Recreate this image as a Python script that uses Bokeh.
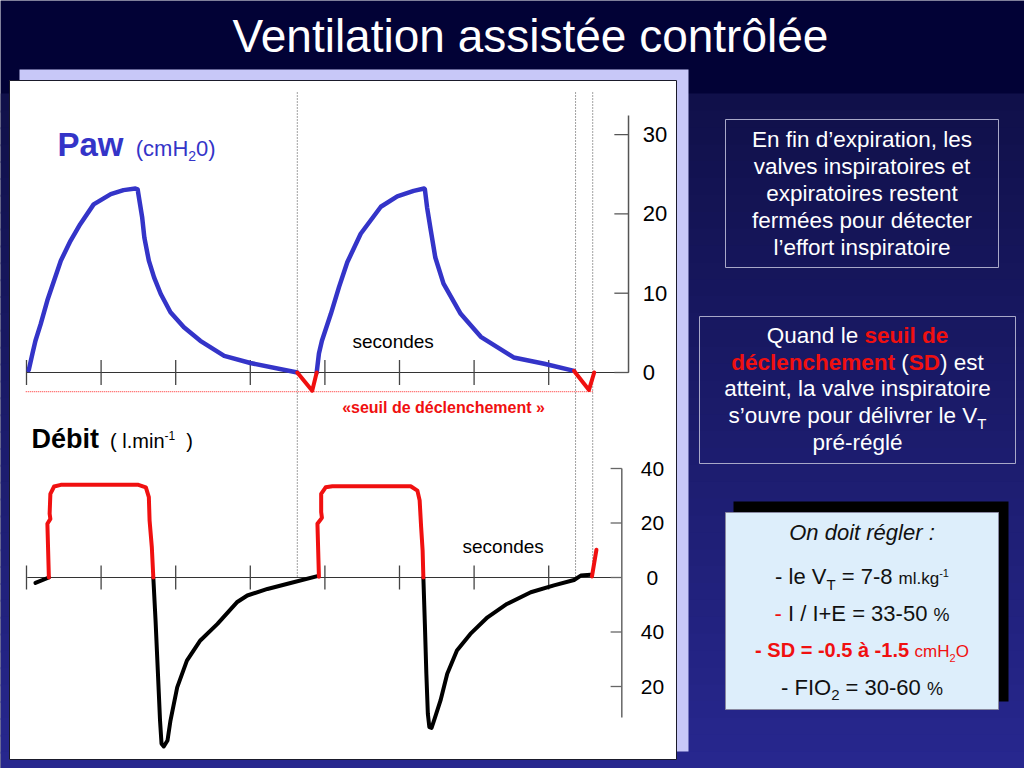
import unicodedata
from bokeh.plotting import figure
from bokeh.models import Range1d
from bokeh.core.properties import value
from bokeh.embed import file_html
from bokeh.resources import INLINE

# ---------------- data (time in tick units, Paw in cmH2O, flow in l/min) ----------------
time_ticks = [0, 1, 2, 3, 4, 5, 6, 7]
paw_ticks = [0, 10, 20, 30]
paw_tick_labels = ["0", "10", "20", "30"]
flow_ticks = [40, 20, 0, -20, -40]
flow_tick_labels = ["40", "20", "0", "40", "20"]

paw1_t = [0.03, 0.08, 0.12, 0.19, 0.28, 0.37, 0.46, 0.59, 0.72, 0.90, 1.13, 1.30, 1.46, 1.49,
          1.50, 1.55, 1.58, 1.64, 1.71, 1.80, 1.93, 2.11, 2.33, 2.65, 3.00, 3.63]
paw1_v = [0.3, 2.4, 4.0, 6.1, 9.1, 11.6, 14.1, 16.6, 18.7, 21.2, 22.5, 23.0, 23.2, 23.1,
          22.5, 19.6, 17.0, 14.1, 12.0, 9.9, 7.6, 5.7, 4.0, 2.1, 1.2, 0.0]
trig1_t = [3.63, 3.83, 3.89]
trig1_v = [0.0, -2.3, 0.0]
paw2_t = [3.89, 3.92, 3.96, 4.08, 4.19, 4.30, 4.48, 4.75, 4.97, 5.19, 5.33, 5.34,
          5.37, 5.42, 5.48, 5.59, 5.82, 6.09, 6.53, 6.94, 7.34]
paw2_v = [0.0, 2.4, 4.0, 7.4, 10.8, 13.9, 17.5, 20.9, 22.2, 22.9, 23.2, 23.1,
          20.8, 17.9, 14.5, 11.2, 7.4, 4.5, 1.9, 1.1, 0.2]
trig2_t = [7.34, 7.54, 7.61]
trig2_v = [0.2, -2.2, 0.0]

flow0_t = [0.12, 0.30]
flow0_v = [-2.0, 0.0]
insp1_t = [0.30, 0.28, 0.32, 0.31, 0.32, 0.37, 0.46, 1.50, 1.60, 1.64, 1.65, 1.68, 1.70]
insp1_v = [0.0, 19.7, 21.5, 23.4, 30.7, 33.4, 34.0, 34.0, 33.1, 29.5, 20.9, 11.1, 0.0]
exp1_t = [1.70, 1.73, 1.76, 1.79, 1.81, 1.84, 1.89, 1.93, 2.02, 2.15, 2.33, 2.56, 2.82,
          2.96, 3.23, 3.54, 3.90]
exp1_v = [0.0, -15.8, -34.1, -52.5, -61.0, -62.0, -59.8, -52.5, -40.3, -30.5, -23.1, -17.0,
          -9.1, -6.6, -4.2, -2.0, 0.5]
insp2_t = [3.92, 3.90, 3.96, 3.95, 3.95, 4.01, 4.10, 5.15, 5.24, 5.27, 5.29, 5.31, 5.32]
insp2_v = [0.3, 19.7, 21.9, 24.0, 30.7, 33.1, 33.5, 33.5, 31.9, 28.3, 18.5, 9.9, 0.0]
exp2_t = [5.32, 5.34, 5.36, 5.38, 5.40, 5.43, 5.47, 5.55, 5.64, 5.77, 5.95, 6.18, 6.44,
          6.76, 7.07, 7.34, 7.43, 7.56]
exp2_v = [0.0, -17.0, -35.3, -50.0, -54.9, -55.2, -51.9, -45.1, -35.3, -26.8, -20.7, -14.6,
          -9.7, -5.4, -2.9, -0.9, 0.7, 1.0]
insp3_t = [7.58, 7.64]
insp3_v = [0.4, 10.2]

trigger_t = [3.63, 7.36, 7.59]
threshold_paw = -2.4
threshold_t = [-0.01, 7.59]

# ---------------- layout calibration (slide pixels) ----------------
T0_PX, T_PX = 26.0, 74.6          # x pixel of t=0, pixels per time unit
PAW0_PY, PAW_PY = 372.0, 7.93     # y pixel of Paw=0, pixels per cmH2O
FLOW0_PY, FLOW_PY = 577.0, 2.725  # y pixel of flow=0, pixels per l/min
X0, X1, Y0, Y1 = 0, 1024, 0, 768  # slide window

BLUE = "#3434C8"
RED = "#F01010"
FONT = value("Liberation Sans")

p = figure(width=1024, height=768, output_backend="svg", toolbar_location=None,
           x_range=Range1d(X0, X1), y_range=Range1d(Y1, Y0),
           x_axis_type=None, y_axis_type=None, min_border=0)
p.grid.visible = False
p.outline_line_color = None
p.background_fill_color = "#020236"
p.border_fill_color = "#020236"
p.extra_x_ranges = {"t": Range1d((X0 - T0_PX) / T_PX, (X1 - T0_PX) / T_PX)}
p.extra_y_ranges = {
    "paw": Range1d((PAW0_PY - Y1) / PAW_PY, (PAW0_PY - Y0) / PAW_PY),
    "flow": Range1d((FLOW0_PY - Y1) / FLOW_PY, (FLOW0_PY - Y0) / FLOW_PY),
}

# ---------------- background ----------------
def mix(c1, c2, f):
    a = [int(c1[i:i + 2], 16) for i in (1, 3, 5)]
    b = [int(c2[i:i + 2], 16) for i in (1, 3, 5)]
    return "#%02x%02x%02x" % tuple(int(round(a[k] + (b[k] - a[k]) * f)) for k in range(3))

n = 40
gy = [93 + (Y1 - 93) * i / n for i in range(n + 1)]
p.quad(left=[X0] * n, right=[X1] * n, top=gy[:-1], bottom=[g + 2 for g in gy[1:]],
       fill_color=[mix("#10104a", "#27278e", i / (n - 1)) for i in range(n)], line_color=None)

# chart panel: lavender shadow + white sheet
p.quad(left=[19], right=[688], top=[69], bottom=[751], fill_color="#C8C8F8", line_color=None)
p.quad(left=[9], right=[676], top=[80], bottom=[759], fill_color="white",
       line_color="#1a1a2a", line_width=1)

# ---------------- chart ----------------
tr = dict(x_range_name="t")
# dotted vertical trigger lines
p.segment(x0=trigger_t, x1=trigger_t, y0=[92] * 3, y1=[576] * 3, line_color="#444444",
          line_width=1, line_dash="1 2", **tr)
# trigger threshold
p.line(threshold_t, [threshold_paw] * 2, line_color="#FF5050", line_width=1.2, line_dash="1 1",
       y_range_name="paw", **tr)

# Paw axes
PAW_AXIS_T = 8.07
p.line([0, PAW_AXIS_T], [0, 0], line_color="#333333", line_width=1.2, y_range_name="paw", **tr)
p.scatter(time_ticks, [0] * len(time_ticks), marker="dash", angle=1.5708, size=25,
          line_color="#444444", line_width=1.3, y_range_name="paw", **tr)
p.line([PAW_AXIS_T, PAW_AXIS_T], [0, 32.4], line_color="#555555", line_width=1.5,
       y_range_name="paw", **tr)
p.segment(x0=[PAW_AXIS_T - 0.19] * 4, x1=[PAW_AXIS_T] * 4, y0=paw_ticks, y1=paw_ticks,
          line_color="#555555", line_width=1.3, y_range_name="paw", **tr)
p.text(x=[8.26] * 4, y=paw_ticks, text=paw_tick_labels, text_font=FONT,
       text_font_size="22px", text_color="black", text_align="left", text_baseline="middle",
       y_range_name="paw", **tr)

# Flow axes
FLOW_AXIS_T = 7.98
p.line([0.01, 7.94], [0, 0], line_color="#333333", line_width=1.2, y_range_name="flow", **tr)
p.scatter(time_ticks, [0] * len(time_ticks), marker="dash", angle=1.5708, size=24,
          line_color="#444444", line_width=1.3, y_range_name="flow", **tr)
p.line([FLOW_AXIS_T, FLOW_AXIS_T], [40, -51.4], line_color="#666666", line_width=1.5,
       y_range_name="flow", **tr)
p.segment(x0=[FLOW_AXIS_T - 0.15] * 5, x1=[FLOW_AXIS_T] * 5, y0=flow_ticks, y1=flow_ticks,
          line_color="#666666", line_width=1.3, y_range_name="flow", **tr)
p.text(x=[8.39] * 5, y=flow_ticks, text=flow_tick_labels, text_font=FONT,
       text_font_size="21px", text_color="black", text_align="center", text_baseline="middle",
       y_range_name="flow", **tr)

# curves
cs = dict(line_join="round", line_cap="round", **tr)
p.line(paw1_t, paw1_v, line_color=BLUE, line_width=4.5, y_range_name="paw", **cs)
p.line(paw2_t, paw2_v, line_color=BLUE, line_width=4.5, y_range_name="paw", **cs)
p.line(trig1_t, trig1_v, line_color=RED, line_width=4, y_range_name="paw", **cs)
p.line(trig2_t, trig2_v, line_color=RED, line_width=4, y_range_name="paw", **cs)
for tt, vv, col in [(flow0_t, flow0_v, "black"), (exp1_t, exp1_v, "black"),
                    (exp2_t, exp2_v, "black"), (insp1_t, insp1_v, RED),
                    (insp2_t, insp2_v, RED), (insp3_t, insp3_v, RED)]:
    p.line(tt, vv, line_color=col, line_width=4, y_range_name="flow", **cs)

# ---------------- text helpers ----------------
REG = {' ': 278, '%': 889, '(': 333, ')': 333, '+': 584, ',': 278, '-': 333, '.': 278,
       '/': 278, ':': 278, '=': 584, '’': 222, '«': 556, '»': 556,
       'A': 667, 'D': 722, 'E': 667, 'F': 611, 'H': 722, 'I': 278, 'O': 778, 'P': 667,
       'Q': 778, 'S': 667, 'T': 611, 'V': 667,
       'a': 556, 'b': 556, 'c': 500, 'd': 556, 'e': 556, 'f': 278, 'g': 556, 'h': 556,
       'i': 222, 'j': 222, 'k': 500, 'l': 222, 'm': 833, 'n': 556, 'o': 556, 'p': 556,
       'q': 556, 'r': 333, 's': 500, 't': 278, 'u': 556, 'v': 500, 'w': 722, 'x': 500,
       'y': 500, 'z': 500}
BOLD = {' ': 278, '%': 889, '(': 333, ')': 333, '+': 584, ',': 278, '-': 333, '.': 278,
        '/': 278, ':': 333, '=': 584, '’': 278, '«': 556, '»': 556,
        'D': 722, 'E': 667, 'P': 667, 'S': 667, 'T': 611, 'V': 667,
        'a': 556, 'b': 611, 'c': 556, 'd': 611, 'e': 556, 'f': 333, 'g': 611, 'h': 611,
        'i': 278, 'l': 278, 'm': 889, 'n': 611, 'o': 611, 'p': 611, 'r': 389, 's': 556,
        't': 333, 'u': 611, 'v': 556, 'w': 778}


def width(s, size, style):
    tab = BOLD if "bold" in style else REG
    tot = 0
    for ch in s:
        base = unicodedata.normalize("NFD", ch)[0]
        tot += 556 if base.isdigit() else tab.get(base, tab.get(ch, 556))
    return tot * size / 1000.0


def put(x, base, s, size, color, style="normal", align="left"):
    # place by visual centre of capitals: baseline - 0.36 em
    p.text(x=[x], y=[base - 0.36 * size], text=[s], text_font=FONT,
           text_font_size=value(f"{size}px"), text_font_style=style, text_color=color,
           text_align=align, text_baseline="middle")


def runs_line(runs, x, base, center=True):
    total = sum(width(r[0].rstrip(" "), r[1], r[3]) if i == len(runs) - 1
                else width(r[0], r[1], r[3]) for i, r in enumerate(runs))
    if center:
        x = x - total / 2.0
    for s, size, color, style, dy in runs:
        lead = len(s) - len(s.lstrip(" "))
        put(x + width(" " * lead, size, style), base + dy, s.strip(" "), size, color, style)
        x += width(s, size, style)


# chart labels
runs_line([("Paw", 33, BLUE, "bold", 0), ("  (cmH", 22, BLUE, "normal", 0),
           ("2", 14, BLUE, "normal", 5), ("0)", 22, BLUE, "normal", 0)], 57, 156, center=False)
runs_line([("Débit", 27, "black", "bold", 0), ("  ( l.min", 20, "black", "normal", 0),
           ("-1", 12, "black", "normal", -9), ("  )", 20, "black", "normal", 0)], 31, 448,
          center=False)
put(352, 348, "secondes", 19, "black")
put(462, 553, "secondes", 19, "black")
put(443, 413, "«seuil de déclenchement »", 16, RED, "bold", "center")

# title
put(530, 52, "Ventilation assistée contrôlée", 46, "white", "normal", "center")

# ---------------- right-hand boxes ----------------
p.quad(left=[725], right=[998], top=[119], bottom=[267], fill_color=None,
       line_color="#A8A8C8", line_width=1)
box1 = ["En fin d’expiration, les", "valves inspiratoires et", "expiratoires restent",
        "fermées pour détecter", "l’effort inspiratoire"]
for i, s in enumerate(box1):
    put(861.5, 147 + 27 * i, s, 22.5, "white", "normal", "center")

p.quad(left=[699], right=[1015], top=[316], bottom=[463], fill_color=None,
       line_color="#A8A8C8", line_width=1)
W = "white"
box2 = [
    [("Quand le ", 22.5, W, "normal", 0), ("seuil de", 22.5, RED, "bold", 0)],
    [("déclenchement", 22.5, RED, "bold", 0), (" (", 22.5, W, "normal", 0),
     ("SD", 22.5, RED, "bold", 0), (") est", 22.5, W, "normal", 0)],
    [("atteint, la valve inspiratoire", 22.5, W, "normal", 0)],
    [("s’ouvre pour délivrer le V", 22.5, W, "normal", 0), ("T", 15, W, "normal", 5)],
    [("pré-réglé", 22.5, W, "normal", 0)],
]
for i, r in enumerate(box2):
    runs_line(r, 857, 343 + 26.7 * i)

p.quad(left=[733], right=[1008], top=[501], bottom=[701], fill_color="black", line_color=None)
p.quad(left=[725], right=[998], top=[512], bottom=[709], fill_color="#DDEEFB",
       line_color="#8888A0", line_width=1)
K = "#111111"
box3 = [
    [("On doit régler :", 22, K, "italic", 0)],
    [("- le V", 22, K, "normal", 0), ("T", 15, K, "normal", 5), (" = 7-8 ", 22, K, "normal", 0),
     ("ml.kg", 17, K, "normal", 0), ("-1", 11, K, "normal", -8)],
    [("-", 22, RED, "normal", 0), (" I / I+E = 33-50 ", 22, K, "normal", 0),
     ("%", 18, K, "normal", 0)],
    [("- SD = -0.5 à -1.5 ", 20, RED, "bold", 0), ("cmH", 17, RED, "normal", 0),
     ("2", 11, RED, "normal", 4), ("O", 17, RED, "normal", 0)],
    [("- FIO", 22, K, "normal", 0), ("2", 15, K, "normal", 5), (" = 30-60 ", 22, K, "normal", 0),
     ("%", 18, K, "normal", 0)],
]
bases3 = [540, 584, 621, 657, 695]
for r, b in zip(box3, bases3):
    runs_line(r, 861.5, b)

open("out.html", "w").write(file_html(p, INLINE))
